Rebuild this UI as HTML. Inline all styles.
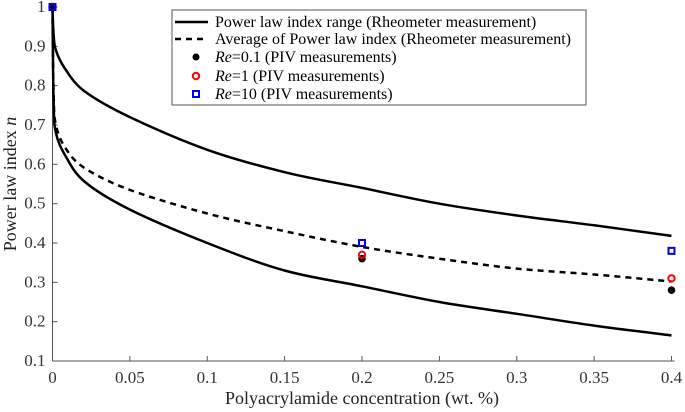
<!DOCTYPE html>
<html><head><meta charset="utf-8"><style>
body{margin:0;background:#fff;}
svg{display:block;}
svg text{font-family:"Liberation Serif","Times New Roman","DejaVu Serif",serif;}
</style></head><body>
<svg id="chart" width="685" height="412" viewBox="0 0 685 412" xmlns="http://www.w3.org/2000/svg" font-family="Liberation Serif, serif">
<g id="axes"></g>
<g id="series"></g>
<g id="legend">
<rect x="172" y="10" width="414" height="95" fill="#fff" stroke="#555" stroke-width="1"/>
<line x1="175" y1="22" x2="208" y2="22" stroke="#000" stroke-width="2.5"/>
<text x="215" y="27" font-size="16" font-family="Liberation Serif, serif">Power law index range (Rheometer measurement)</text>
<line x1="175" y1="39" x2="208" y2="39" stroke="#000" stroke-width="2.5" stroke-dasharray="6,5"/>
<text x="215" y="44" font-size="16" font-family="Liberation Serif, serif">Average of  Power law index (Rheometer measurement)</text>
<circle cx="196" cy="57" r="3.5" fill="#000"/>
<text x="215" y="62" font-size="16" font-family="Liberation Serif, serif"><tspan font-style="italic">Re</tspan>=0.1 (PIV measurements)</text>
<circle cx="196" cy="76" r="3.2" fill="none" stroke="red" stroke-width="2"/>
<text x="215" y="81" font-size="16" font-family="Liberation Serif, serif"><tspan font-style="italic">Re</tspan>=1 (PIV measurements)</text>
<rect x="193" y="91" width="6" height="6" fill="none" stroke="blue" stroke-width="2"/>
<text x="215" y="99" font-size="16" font-family="Liberation Serif, serif"><tspan font-style="italic">Re</tspan>=10 (PIV measurements)</text>
</g>
</svg>
<script>
const conc = [0,0.0007,0.0022,0.0086,0.021,0.05,0.1,0.15,0.2,0.25,0.3,0.35,0.4];
const upperN = [1,0.93,0.89,0.84,0.785,0.72,0.637,0.58,0.54,0.50,0.47,0.445,0.418];
const lowerN = [1,0.76,0.68,0.62,0.555,0.485,0.40,0.33,0.29,0.25,0.22,0.19,0.165];
const avgN = [1,0.78,0.70,0.64,0.59,0.535,0.475,0.43,0.39,0.36,0.335,0.32,0.302];
const pivConc = [0,0.2,0.4];
const re01 = [1,0.36,0.28];
const re1 = [1,0.37,0.31];
const re10 = [1,0.40,0.38];
const xTicks = [0,0.05,0.1,0.15,0.2,0.25,0.3,0.35,0.4];
const yTicks = [0.1,0.2,0.3,0.4,0.5,0.6,0.7,0.8,0.9,1];

const NS="http://www.w3.org/2000/svg";
const FF="Liberation Serif, serif";
const X0=52.5,X1=671.5,Y0=361,Y1=7;
const sx=v=>X0+(v-0)/(0.4-0)*(X1-X0);
const sy=v=>Y0-(v-0.1)/(1-0.1)*(Y0-Y1);
function mk(tag,attrs,parent){const e=document.createElementNS(NS,tag);for(const k in attrs)e.setAttribute(k,attrs[k]);parent.appendChild(e);return e;}
const axes=document.getElementById('axes'),ser=document.getElementById('series');
let e=mk('line',{x1:X0,y1:Y0,x2:X1+3,y2:Y0,stroke:'#555','stroke-width':1},axes);


e=mk('line',{x1:X0,y1:Y0,x2:X0,y2:Y1,stroke:'#555','stroke-width':1},axes);


xTicks.forEach(t=>{
  const l=mk('line',{x1:sx(t),y1:Y0,x2:sx(t),y2:Y0-5,stroke:'#555'},axes);
  
  
  const tx=mk('text',{x:sx(t),y:Y0+22,'font-size':17,'text-anchor':'middle',fill:'#333','font-family':FF},axes);
  tx.textContent=String(t);
  
  
});
yTicks.forEach(t=>{
  const l=mk('line',{x1:X0,y1:sy(t),x2:X0+5,y2:sy(t),stroke:'#555'},axes);
  
  
  const tx=mk('text',{x:X0-7,y:sy(t)+5,'font-size':17,'text-anchor':'end',fill:'#333','font-family':FF},axes);
  tx.textContent=String(t);
  
  
});
e=mk('text',{x:(X0+X1)/2,y:404,'font-size':18,'text-anchor':'middle',fill:'#222','font-family':FF},axes);
e.textContent='Polyacrylamide concentration (wt. %)';


e=mk('text',{x:0,y:0,'font-size':18,'text-anchor':'middle',fill:'#222','font-family':FF,transform:`translate(16,${(Y0+Y1)/2}) rotate(-90)`},axes);
e.innerHTML='Power law index  <tspan font-style="italic">n</tspan>';


function path(arr,name,dash){
  const P=conc.map((c,i)=>[sx(c),sy(arr[i])]);
  let d='M'+P[0][0].toFixed(1)+','+P[0][1].toFixed(1);
  for(let i=0;i<P.length-1;i++){
    const p0=P[Math.max(i-1,0)],p1=P[i],p2=P[i+1],p3=P[Math.min(i+2,P.length-1)];
    const c1=[p1[0]+(p2[0]-p0[0])/6,p1[1]+(p2[1]-p0[1])/6];
    const c2=[p2[0]-(p3[0]-p1[0])/6,p2[1]-(p3[1]-p1[1])/6];
    d+=' C'+c1.map(v=>v.toFixed(1)).join(',')+' '+c2.map(v=>v.toFixed(1)).join(',')+' '+p2.map(v=>v.toFixed(1)).join(',');
  }
  const p=mk('path',{d:d,fill:'none',stroke:'#000','stroke-width':2.5},ser);
  if(dash)p.setAttribute('stroke-dasharray','6,5');
  
  
}
path(upperN,'upper-range-line',false);
path(lowerN,'lower-range-line',false);
path(avgN,'average-line',true);
pivConc.forEach((c,i)=>{
  const a=mk('circle',{cx:sx(c),cy:sy(re01[i]),r:3.8,fill:'#000'},ser);
  
  
  const b=mk('circle',{cx:sx(c),cy:sy(re1[i]),r:3.2,fill:'none',stroke:'red','stroke-width':2},ser);
  
  
  const r=mk('rect',{x:sx(c)-3,y:sy(re10[i])-3,width:6,height:6,fill:'none',stroke:'blue','stroke-width':2},ser);
  
  
});
</script>
</body></html>
